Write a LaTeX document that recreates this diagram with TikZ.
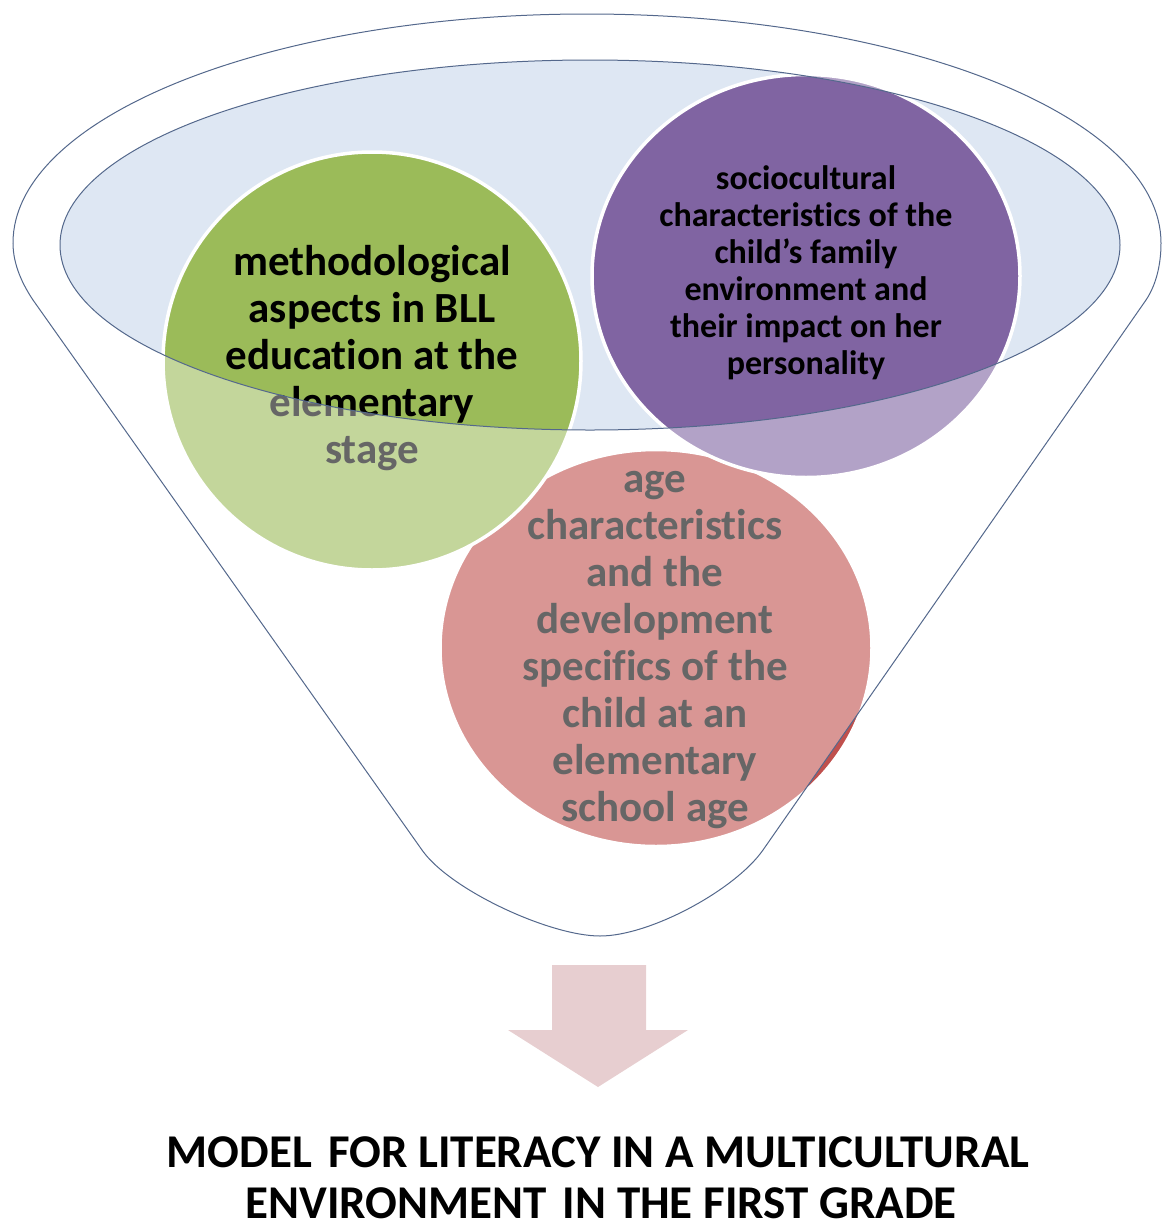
\documentclass[tikz,border=0pt]{standalone}
\usepackage{fontspec}
\setmainfont{Carlito}[Ligatures=NoCommon]
\usetikzlibrary{shapes.geometric}
\definecolor{cgreen}{RGB}{155,187,89}
\definecolor{cpurple}{RGB}{128,100,162}
\definecolor{cred}{RGB}{192,80,77}
\definecolor{cblue}{RGB}{222,231,243}
\definecolor{cline}{RGB}{84,104,140}
\definecolor{carrow}{RGB}{231,206,208}
\begin{document}
\begin{tikzpicture}[x=1pt,y=1pt,
  bubble/.style={ellipse, draw=white, line width=3.5pt, inner sep=0pt},
  bigtext/.style={align=center, inner sep=0pt, text=black, font=\bfseries\fontsize{43}{47}\selectfont},
  smalltext/.style={align=center, inner sep=0pt, text=black, font=\bfseries\fontsize{34}{37}\selectfont},
  titletext/.style={inner sep=0pt, text=black, font=\bfseries\fontsize{47}{55}\selectfont},
  outline/.style={draw=cline, line width=1pt}]
\useasboundingbox (0,0) rectangle (1162,-1232);
% top of the funnel (inner ellipse fill)
\fill[cblue] (590,-245) ellipse [x radius=530pt, y radius=185pt];
% bubbles
\node[bubble, fill=cred, minimum width=432pt, minimum height=397pt] (age) at (656,-648) {};
\node[bubble, fill=cgreen, minimum width=418pt, minimum height=418pt] (meth) at (372,-361) {};
\node[bubble, fill=cpurple, minimum width=428pt, minimum height=403pt] (soc) at (806,-276) {};
\node[bigtext] (methtext) at (372,-358) {methodological\\aspects in BLL\\education at the\\elementary\\stage};
\node[smalltext] (soctext) at (806,-273) {sociocultural\\characteristics of the\\child’s family\\environment and\\their impact on her\\personality};
\node[bigtext] (agetext) at (655,-650) {age\\characteristics\\and the\\development\\specifics of the\\child at an\\elementary\\school age};
% funnel body (translucent white) with the top opening cut out
\fill[white, fill opacity=0.4, even odd rule]
  (13,-243) arc[start angle=180, end angle=0, x radius=574pt, y radius=229pt]
  .. controls (1161,-265) and (1156,-285) .. (1146,-300)
  -- (763,-850)
  .. controls (735,-890) and (650,-936) .. (600,-936)
  .. controls (550,-936) and (450,-890) .. (422,-850)
  -- (33,-300)
  .. controls (23,-285) and (13,-265) .. cycle
  (590,-245) ellipse [x radius=530pt, y radius=185pt];
% outlines
\draw[outline]
  (13,-243) arc[start angle=180, end angle=0, x radius=574pt, y radius=229pt]
  .. controls (1161,-265) and (1156,-285) .. (1146,-300)
  -- (763,-850)
  .. controls (735,-890) and (650,-936) .. (600,-936)
  .. controls (550,-936) and (450,-890) .. (422,-850)
  -- (33,-300)
  .. controls (23,-285) and (13,-265) .. cycle;
\draw[outline] (590,-245) ellipse [x radius=530pt, y radius=185pt];
% down arrow
\fill[carrow] (552,-965) -- (646,-965) -- (646,-1030) -- (688,-1030) -- (598,-1087)
  -- (508,-1030) -- (552,-1030) -- cycle;
% title
\node[titletext, anchor=base] (title1) at (598,-1167) {MODEL\hspace{0.12em} FOR LITERACY IN A MULTICULTURAL};
\node[titletext, anchor=base] (title2) at (601,-1218) {ENVIRONMENT\hspace{0.12em} IN THE FIRST GRADE};
\end{tikzpicture}
\end{document}
